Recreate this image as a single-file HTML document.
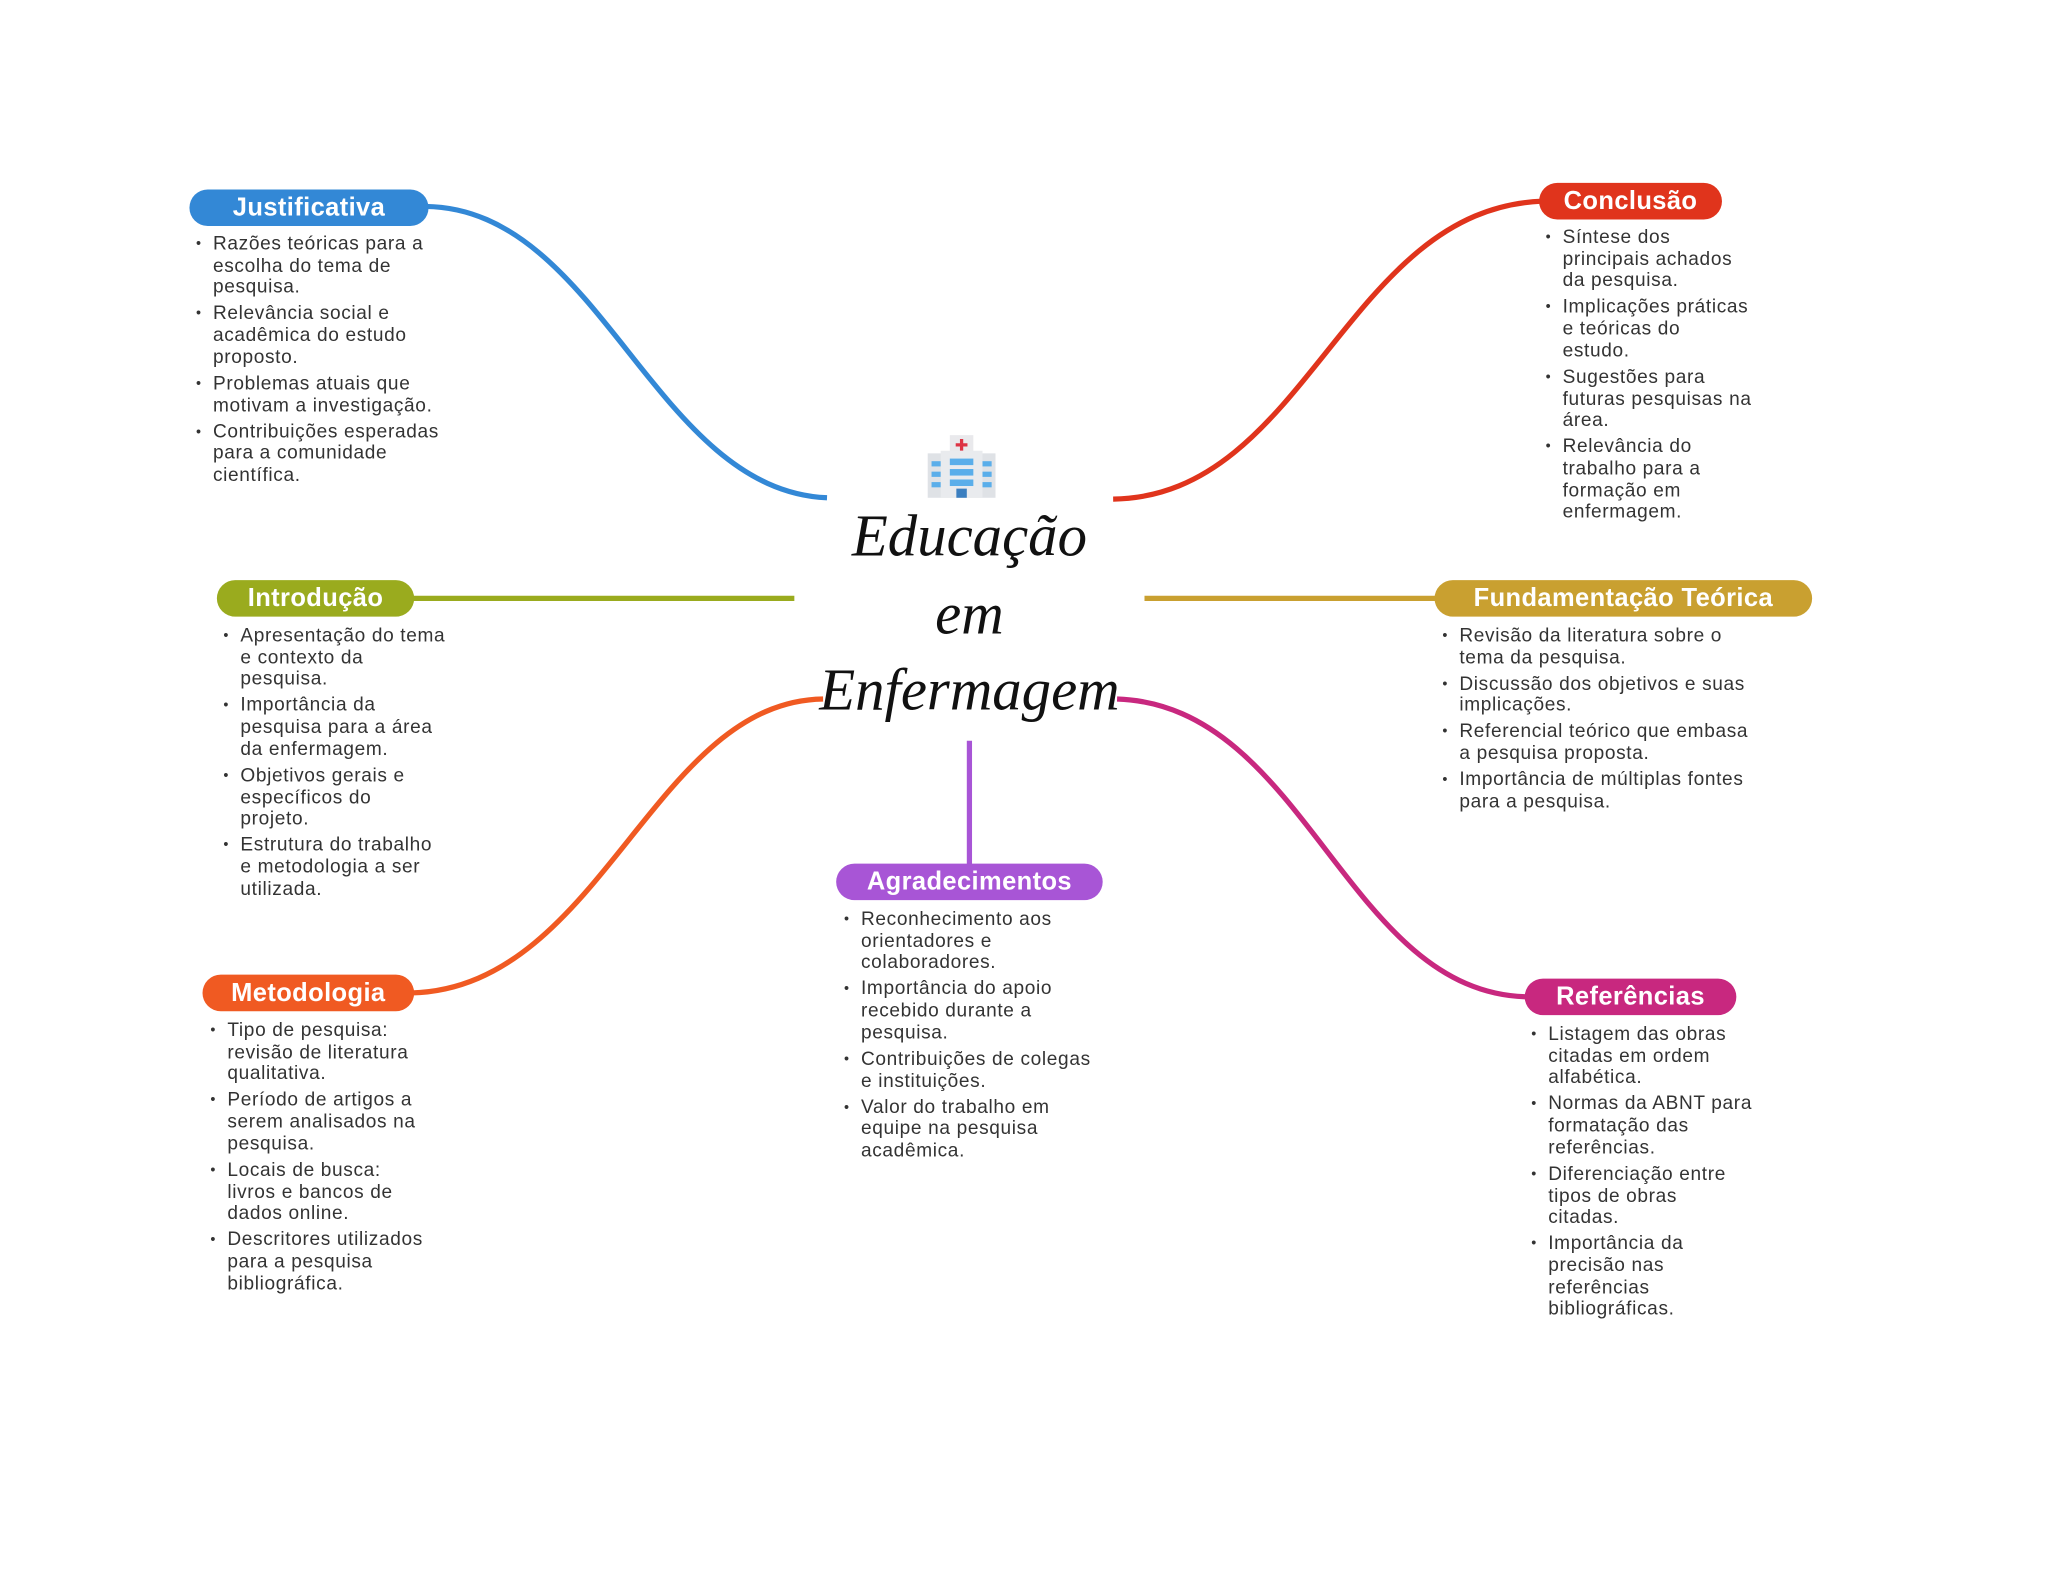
<!DOCTYPE html>
<html><head><meta charset="utf-8">
<style>
html,body{margin:0;padding:0;background:#fff;}
body{width:2048px;height:1569px;overflow:hidden;position:relative;}
#s{position:absolute;left:0;top:0;width:1568px;height:1201px;transform:scale(1.3065);transform-origin:0 0;}
.pill{position:absolute;height:28px;border-radius:14px;color:#fff;font:bold 19.5px "Liberation Sans",sans-serif;line-height:28px;text-align:center;letter-spacing:0.3px;}
.b{position:absolute;margin-top:2px;font:14.6px "Liberation Sans",sans-serif;color:#333;line-height:16.7px;letter-spacing:0.5px;}
.b div{position:relative;padding-left:13px;margin-bottom:3.3px;}
.b div:before{content:"•";position:absolute;left:0;top:0;font-size:11px;}
.t{position:absolute;width:400px;left:542px;text-align:center;font:italic 45px "Liberation Serif",serif;color:#111;}
</style></head><body><div id="s">
<svg width="1568" height="1201" style="position:absolute;left:0;top:0" fill="none" stroke-width="4">
<path d="M326,158 C460,160 500,375 633,381" stroke="#3388d6"/>
<path d="M1180,154 C1030,160 1000,380 852,382" stroke="#e0341c"/>
<path d="M315,458 L608,458" stroke="#9aab1e"/>
<path d="M876,458 L1100,458" stroke="#c9a030"/>
<path d="M315,760 C460,756 500,537 630,535" stroke="#f05a22"/>
<path d="M855,535 C1000,540 1030,760 1169,763" stroke="#c8287f"/>
<path d="M742,567 L742,662" stroke="#a855d6"/>
</svg>
<svg width="52" height="50" viewBox="0 0 52 50" style="position:absolute;left:710px;top:333px">
<rect x="17" y="0" width="18" height="16" fill="#e9e9ec"/>
<path d="M26 3v9M21.5 7.5h9" stroke="#dd3344" stroke-width="2.5"/>
<rect x="0" y="14" width="52" height="34" fill="#dfe2e6"/>
<rect x="10" y="12" width="32" height="36" fill="#e9ebee"/>
<g fill="#5aaeea"><rect x="17" y="18" width="18" height="5"/><rect x="17" y="26" width="18" height="5"/><rect x="17" y="34" width="18" height="5"/>
<rect x="3" y="20" width="7" height="4"/><rect x="3" y="28" width="7" height="4"/><rect x="3" y="36" width="7" height="4"/>
<rect x="42" y="20" width="7" height="4"/><rect x="42" y="28" width="7" height="4"/><rect x="42" y="36" width="7" height="4"/></g>
<rect x="22" y="41" width="8" height="7" fill="#3b7fc0"/>
</svg>
<div class="t" style="top:384px">Educação</div>
<div class="t" style="top:444px">em</div>
<div class="t" style="top:502px">Enfermagem</div>

<div class="pill" style="left:145px;top:145px;width:183px;background:#3388d6">Justificativa</div>
<div class="b" style="left:150px;top:177px"><div>Razões teóricas para a<br>escolha do tema de<br>pesquisa.</div><div>Relevância social e<br>acadêmica do estudo<br>proposto.</div><div>Problemas atuais que<br>motivam a investigação.</div><div>Contribuições esperadas<br>para a comunidade<br>científica.</div></div>

<div class="pill" style="left:1178px;top:140px;width:140px;background:#e0341c">Conclusão</div>
<div class="b" style="left:1183px;top:172px"><div>Síntese dos<br>principais achados<br>da pesquisa.</div><div>Implicações práticas<br>e teóricas do<br>estudo.</div><div>Sugestões para<br>futuras pesquisas na<br>área.</div><div>Relevância do<br>trabalho para a<br>formação em<br>enfermagem.</div></div>

<div class="pill" style="left:166px;top:444px;width:151px;background:#9aab1e">Introdução</div>
<div class="b" style="left:171px;top:477px"><div>Apresentação do tema<br>e contexto da<br>pesquisa.</div><div>Importância da<br>pesquisa para a área<br>da enfermagem.</div><div>Objetivos gerais e<br>específicos do<br>projeto.</div><div>Estrutura do trabalho<br>e metodologia a ser<br>utilizada.</div></div>

<div class="pill" style="left:1098px;top:444px;width:289px;background:#c9a030">Fundamentação Teórica</div>
<div class="b" style="left:1104px;top:477px"><div>Revisão da literatura sobre o<br>tema da pesquisa.</div><div>Discussão dos objetivos e suas<br>implicações.</div><div>Referencial teórico que embasa<br>a pesquisa proposta.</div><div>Importância de múltiplas fontes<br>para a pesquisa.</div></div>

<div class="pill" style="left:155px;top:746px;width:162px;background:#f05a22">Metodologia</div>
<div class="b" style="left:161px;top:779px"><div>Tipo de pesquisa:<br>revisão de literatura<br>qualitativa.</div><div>Período de artigos a<br>serem analisados na<br>pesquisa.</div><div>Locais de busca:<br>livros e bancos de<br>dados online.</div><div>Descritores utilizados<br>para a pesquisa<br>bibliográfica.</div></div>

<div class="pill" style="left:640px;top:661px;width:204px;background:#a855d6">Agradecimentos</div>
<div class="b" style="left:646px;top:694px"><div>Reconhecimento aos<br>orientadores e<br>colaboradores.</div><div>Importância do apoio<br>recebido durante a<br>pesquisa.</div><div>Contribuições de colegas<br>e instituições.</div><div>Valor do trabalho em<br>equipe na pesquisa<br>acadêmica.</div></div>

<div class="pill" style="left:1167px;top:749px;width:162px;background:#c8287f">Referências</div>
<div class="b" style="left:1172px;top:782px"><div>Listagem das obras<br>citadas em ordem<br>alfabética.</div><div>Normas da ABNT para<br>formatação das<br>referências.</div><div>Diferenciação entre<br>tipos de obras<br>citadas.</div><div>Importância da<br>precisão nas<br>referências<br>bibliográficas.</div></div>
</div></body></html>
